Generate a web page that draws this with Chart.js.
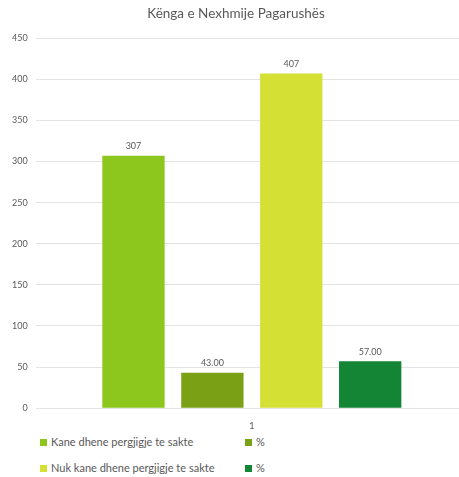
<!DOCTYPE html>
<html>
<head>
<meta charset="utf-8">
<script src="https://cdn.jsdelivr.net/npm/chart.js@4/dist/chart.umd.min.js"></script>
<style>
  body { margin: 0; background: #fff; font-family: Lato, sans-serif; overflow: hidden; }
  #wrap { position: relative; width: 468px; height: 435px; }
  #legend {
    display: grid;
    grid-template-columns: 205px auto;
    row-gap: 13px;
    margin: 0 0 0 40px;
    font-size: 11px;
    color: #595959;
  }
  #legend span.box {
    display: inline-block; width: 7px; height: 7px; margin-right: 4px;
  }
</style>
</head>
<body>
<div id="wrap"><canvas id="chart"></canvas></div>
<div id="legend"></div>
<script>
// Chart data
const categories = ['1'];
const seriesNames = [
  'Kane dhene pergjigje te sakte',
  '%',
  'Nuk kane dhene pergjigje te sakte',
  '%',
];
const seriesValues = [[307], [43], [407], [57]];
const labelDecimals = [0, 2, 0, 2];
const seriesColors = ['#8DC71E', '#7AA116', '#D4E033', '#138535'];
const yTicks = [0, 50, 100, 150, 200, 250, 300, 350, 400, 450];

const textColor = '#595959';

// draws the value above each bar
const valueLabels = {
  id: 'valueLabels',
  afterDatasetsDraw(chart) {
    const ctx = chart.ctx;
    ctx.save();
    ctx.font = '9px Lato';
    ctx.fillStyle = textColor;
    ctx.textAlign = 'center';
    ctx.textBaseline = 'bottom';
    chart.data.datasets.forEach((ds, i) => {
      chart.getDatasetMeta(i).data.forEach((bar, j) => {
        ctx.fillText(ds.data[j].toFixed(labelDecimals[i]), bar.x, bar.y - 5);
      });
    });
    ctx.restore();
  },
};

const chart = new Chart(document.getElementById('chart'), {
  type: 'bar',
  data: {
    labels: categories,
    datasets: seriesNames.map((name, i) => ({
      label: name,
      data: seriesValues[i],
      backgroundColor: seriesColors[i],
      categoryPercentage: 0.73,
      barPercentage: 0.79,
    })),
  },
  options: {
    responsive: true,
    maintainAspectRatio: false,
    animation: false,
    layout: { padding: { left: 4, right: 0, top: 0, bottom: 0 } },
    plugins: {
      legend: { display: false },
      tooltip: { enabled: false },
      title: {
        display: true,
        text: 'Kënga e Nexhmije Pagarushës',
        color: textColor,
        font: { family: 'Lato', size: 13.5, weight: 'normal' },
        padding: { top: 6, bottom: 16 },
        // keep the title centred on the visible 459px window
        align: 'center',
      },
    },
    scales: {
      x: {
        grid: { display: false },
        border: { display: false },
        ticks: { color: textColor, font: { family: 'Lato', size: 9 }, padding: 4 },
      },
      y: {
        min: 0,
        max: 450,
        afterBuildTicks(axis) {
          axis.ticks = yTicks.map((v) => ({ value: v }));
        },
        grid: { color: '#E3E3E3', drawTicks: false },
        border: { display: false },
        ticks: { color: textColor, font: { family: 'Lato', size: 9 }, padding: 8 },
      },
    },
  },
  plugins: [valueLabels],
});

// two-column legend like the original
const legend = document.getElementById('legend');
seriesNames.forEach((name, i) => {
  const item = document.createElement('div');
  item.innerHTML = '<span class="box" style="background:' + seriesColors[i] + '"></span>' + name;
  legend.appendChild(item);
});
</script>
</body>
</html>
